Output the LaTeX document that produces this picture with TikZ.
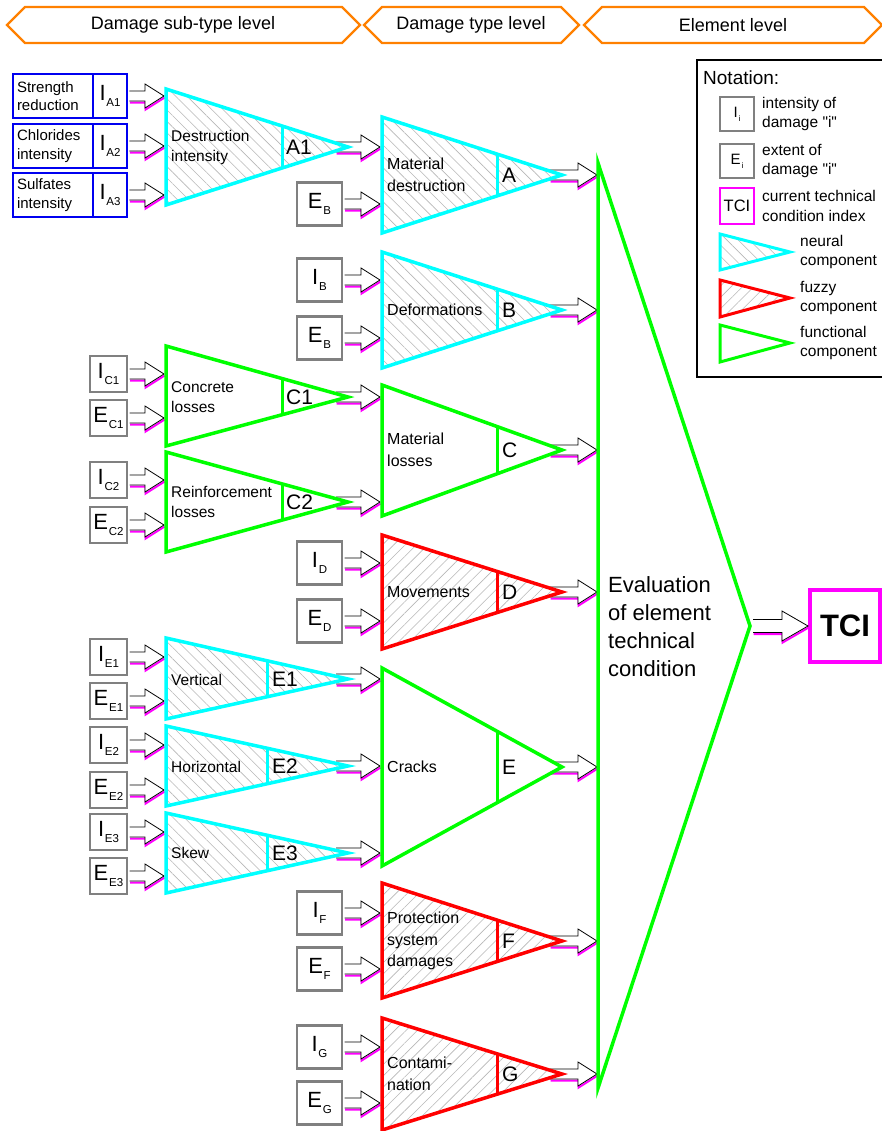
\documentclass[tikz,border=0pt]{standalone}
\usepackage{fontspec}
\setmainfont{Liberation Sans}[Ligatures=TeXOff]
\usetikzlibrary{calc,patterns.meta}

\definecolor{ncyan}{RGB}{0,255,255}
\definecolor{nmagenta}{RGB}{255,0,255}
\definecolor{ngreen}{RGB}{0,255,0}
\definecolor{nred}{RGB}{255,0,0}
\definecolor{nblue}{RGB}{0,0,240}
\definecolor{norange}{RGB}{255,128,0}
\definecolor{ngray}{RGB}{128,128,128}

% sizes of the hollow block arrows
\newcommand\shafth{5pt}
\newcommand\headh{12pt}
\newcommand\headl{19pt}

% block arrow with a magenta shadow; #2 = start, #3 = tip (the arrow is horizontal at the tip's height)
\newcommand\blockarrow[3][1.25pt]{%
  \path[draw=nmagenta, line width=2pt, line join=miter]
    let \p1=(#2), \p2=(#3) in
    (\x1+#1+0.5pt,\y2-\shafth-1.6pt) -- (\x2-\headl+0.5pt,\y2-\shafth-1.6pt)
    -- (\x2-\headl+0.5pt,\y2-\headh-1.6pt) -- (\x2+0.5pt,\y2-1.6pt);
  \filldraw[fill=white, draw=black, line width=0.8pt, line join=miter]
    let \p1=(#2), \p2=(#3) in
    (\x1+#1,\y2+\shafth) -- (\x2-\headl,\y2+\shafth) -- (\x2-\headl,\y2+\headh)
    -- (\x2,\y2) -- (\x2-\headl,\y2-\headh) -- (\x2-\headl,\y2-\shafth) -- (\x1+#1,\y2-\shafth);
}

% corner points of a component triangle: name, left x, top y, bottom y, tip x, tip y
\newcommand\defcomp[6]{%
  \coordinate (#1-tl) at (#2,#3);
  \coordinate (#1-bl) at (#2,#4);
  \coordinate (#1-tip) at (#5,#6);
  \expandafter\xdef\csname compleft#1\endcsname{#2}%
  \expandafter\xdef\csname comptip#1\endcsname{#5}%
}
% draw a component triangle: name, kind (neural/fuzzy/func), x of the divider
\newcommand\drawcomp[3]{%
  \path[#2tri] (#1-tl) -- (#1-tip) -- (#1-bl) -- cycle;
  \pgfmathsetmacro\divfrac{(#3-\csname compleft#1\endcsname)/(\csname comptip#1\endcsname-\csname compleft#1\endcsname)}%
  \draw[#2div] ($(#1-tl)!\divfrac!(#1-tip)$) -- ($(#1-bl)!\divfrac!(#1-tip)$);
}

% letter with its index, as printed in the input boxes
\newcommand\boxlet[4]{{\fontsize{#1}{#1}\selectfont #3\kern0.8pt\raisebox{-0.26em}{\fontsize{#2}{#2}\selectfont #4}}}

\tikzset{
  hdr/.style={draw=norange, line width=2.2pt, line join=miter},
  hdrtext/.style={font=\fontsize{18}{18}\selectfont, inner sep=0pt},
  graybox/.style={draw=ngray, line width=2.5pt, fill=white, inner sep=0pt,
    minimum width=45pt, minimum height=43pt},
  smallgray/.style={graybox, minimum width=37pt, minimum height=36pt},
  legbox/.style={graybox, minimum width=34pt, minimum height=34pt},
  bluelab/.style={draw=nblue, line width=2.2pt, fill=white, minimum height=44pt,
    text width=72pt, inner sep=4pt, align=left, font=\fontsize{15}{18.5}\selectfont},
  blueidx/.style={draw=nblue, line width=2.2pt, fill=white, minimum height=44pt,
    minimum width=34pt, inner sep=0pt},
  neuraltri/.style={draw=ncyan, line width=3.5pt, line join=miter, preaction={fill=white},
    pattern={Lines[angle=-45,distance=8pt,line width=0.6pt]}, pattern color=black!28},
  neuraldiv/.style={draw=ncyan, line width=3pt},
  fuzzytri/.style={draw=nred, line width=3.5pt, line join=miter, preaction={fill=white},
    pattern={Lines[angle=45,distance=8pt,line width=0.6pt]}, pattern color=black!28},
  fuzzydiv/.style={draw=nred, line width=3pt},
  functri/.style={draw=ngreen, line width=3.5pt, line join=miter, fill=white},
  funcdiv/.style={draw=ngreen, line width=3pt},
  lab1/.style={anchor=west, align=left, inner sep=0pt, font=\fontsize{15.5}{20}\selectfont},
  lab2/.style={anchor=west, align=left, inner sep=0pt, font=\fontsize{16}{21.5}\selectfont},
  idlabel/.style={anchor=west, inner sep=0pt, font=\fontsize{21}{21}\selectfont},
  legtext/.style={anchor=west, align=left, inner sep=0pt, font=\fontsize{15.5}{19.5}\selectfont},
}

\begin{document}
\begin{tikzpicture}[x=1pt,y=-1pt]
\useasboundingbox (0,0) rectangle (882,1131);

% ---------- level headers
\draw[hdr] (7,25) -- (25,7) -- (342,7) -- (360,25) -- (342,43) -- (25,43) -- cycle;
\draw[hdr] (364,25) -- (382,7) -- (561,7) -- (579,25) -- (561,43) -- (382,43) -- cycle;
\draw[hdr] (584,25) -- (602,7) -- (864,7) -- (882,25) -- (864,43) -- (602,43) -- cycle;
\node[hdrtext] (h1) at (183,25) {Damage sub-type level};
\node[hdrtext] (h2) at (471,25) {Damage type level};
\node[hdrtext] (h3) at (733,25) {Element level};

% ---------- input boxes, sub-type level
\node[bluelab] (sr) at (53,96) {Strength\\reduction};
\node[blueidx] (ia1) at (110,96) {\boxlet{22}{11.5}{I}{A1}};
\node[bluelab] (ci) at (53,146) {Chlorides\\intensity};
\node[blueidx] (ia2) at (110,146) {\boxlet{22}{11.5}{I}{A2}};
\node[bluelab] (si) at (53,195) {Sulfates\\intensity};
\node[blueidx] (ia3) at (110,195) {\boxlet{22}{11.5}{I}{A3}};

\node[smallgray] (ic1) at (108.5,374) {\boxlet{22}{11.5}{I}{C1}};
\node[smallgray] (ec1) at (108.5,418) {\boxlet{22}{11.5}{E}{C1}};
\node[smallgray] (ic2) at (108.5,480) {\boxlet{22}{11.5}{I}{C2}};
\node[smallgray] (ec2) at (108.5,525) {\boxlet{22}{11.5}{E}{C2}};
\node[smallgray] (ie1) at (108.5,657) {\boxlet{22}{11.5}{I}{E1}};
\node[smallgray] (ee1) at (108.5,701) {\boxlet{22}{11.5}{E}{E1}};
\node[smallgray] (ie2) at (108.5,745) {\boxlet{22}{11.5}{I}{E2}};
\node[smallgray] (ee2) at (108.5,790) {\boxlet{22}{11.5}{E}{E2}};
\node[smallgray] (ie3) at (108.5,832) {\boxlet{22}{11.5}{I}{E3}};
\node[smallgray] (ee3) at (108.5,876) {\boxlet{22}{11.5}{E}{E3}};

% ---------- input boxes, type level
\node[graybox] (eba) at (319.5,204) {\boxlet{22}{11.5}{E}{B}};
\node[graybox] (ib) at (319.5,280) {\boxlet{22}{11.5}{I}{B}};
\node[graybox] (eb) at (319.5,338) {\boxlet{22}{11.5}{E}{B}};
\node[graybox] (id) at (319.5,563) {\boxlet{22}{11.5}{I}{D}};
\node[graybox] (ed) at (319.5,621) {\boxlet{22}{11.5}{E}{D}};
\node[graybox] (if) at (319.5,913) {\boxlet{22}{11.5}{I}{F}};
\node[graybox] (ef) at (319.5,969) {\boxlet{22}{11.5}{E}{F}};
\node[graybox] (ig) at (319.5,1047) {\boxlet{22}{11.5}{I}{G}};
\node[graybox] (eg) at (319.5,1103) {\boxlet{22}{11.5}{E}{G}};

% ---------- component geometry
\defcomp{A1}{166}{89}{205}{348}{147}
\defcomp{C1}{166}{346}{446}{348}{397}
\defcomp{C2}{166}{452}{552}{348}{502}
\defcomp{E1}{166}{638}{719}{348}{679}
\defcomp{E2}{166}{726}{806}{348}{766}
\defcomp{E3}{166}{813}{893}{348}{853}
\defcomp{A}{382}{117}{233}{562}{175}
\defcomp{B}{382}{252}{368}{562}{310}
\defcomp{C}{382}{385}{516}{562}{450}
\defcomp{D}{382}{535}{649}{562}{592}
\defcomp{E}{382}{668}{866}{562}{767}
\defcomp{F}{382}{883}{998}{562}{941}
\defcomp{G}{382}{1018}{1130}{562}{1074}

% arrow tips on the component inputs
\coordinate (A1-i1) at (164,96);  \coordinate (A1-i2) at (164,146); \coordinate (A1-i3) at (164,195);
\coordinate (C1-i1) at (164,374); \coordinate (C1-i2) at (164,418);
\coordinate (C2-i1) at (164,480); \coordinate (C2-i2) at (164,525);
\coordinate (E1-i1) at (164,657); \coordinate (E1-i2) at (164,701);
\coordinate (E2-i1) at (164,745); \coordinate (E2-i2) at (164,790);
\coordinate (E3-i1) at (164,832); \coordinate (E3-i2) at (164,876);
\coordinate (A-i1) at (380,147); \coordinate (A-i2) at (380,204);
\coordinate (B-i1) at (380,280); \coordinate (B-i2) at (380,338);
\coordinate (C-i1) at (380,397); \coordinate (C-i2) at (380,502);
\coordinate (D-i1) at (380,563); \coordinate (D-i2) at (380,621);
\coordinate (E-i1) at (380,679); \coordinate (E-i2) at (380,766); \coordinate (E-i3) at (380,853);
\coordinate (F-i1) at (380,913); \coordinate (F-i2) at (380,969);
\coordinate (G-i1) at (380,1047); \coordinate (G-i2) at (380,1103);
\coordinate (ev-i1) at (597,175); \coordinate (ev-i2) at (597,310);
\coordinate (ev-i3) at (597,450); \coordinate (ev-i4) at (597,592);
\coordinate (ev-i5) at (597,767); \coordinate (ev-i6) at (597,941);
\coordinate (ev-i7) at (597,1074);

% arrow starts behind the component tips
\coordinate (A1-out) at (336,147); \coordinate (C1-out) at (336,397);
\coordinate (C2-out) at (336,502); \coordinate (E1-out) at (336,679);
\coordinate (E2-out) at (336,766); \coordinate (E3-out) at (336,853);
\coordinate (A-out) at (550,175); \coordinate (B-out) at (550,310);
\coordinate (C-out) at (550,450); \coordinate (D-out) at (550,592);
\coordinate (E-out) at (550,767); \coordinate (F-out) at (550,941);
\coordinate (G-out) at (550,1074);
\coordinate (ev-out) at (753,626);

% ---------- arrows
\blockarrow{ia1.east}{A1-i1} \blockarrow{ia2.east}{A1-i2} \blockarrow{ia3.east}{A1-i3}
\blockarrow{ic1.east}{C1-i1} \blockarrow{ec1.east}{C1-i2}
\blockarrow{ic2.east}{C2-i1} \blockarrow{ec2.east}{C2-i2}
\blockarrow{ie1.east}{E1-i1} \blockarrow{ee1.east}{E1-i2}
\blockarrow{ie2.east}{E2-i1} \blockarrow{ee2.east}{E2-i2}
\blockarrow{ie3.east}{E3-i1} \blockarrow{ee3.east}{E3-i2}

\blockarrow[0pt]{A1-out}{A-i1} \blockarrow{eba.east}{A-i2}
\blockarrow{ib.east}{B-i1} \blockarrow{eb.east}{B-i2}
\blockarrow[0pt]{C1-out}{C-i1} \blockarrow[0pt]{C2-out}{C-i2}
\blockarrow{id.east}{D-i1} \blockarrow{ed.east}{D-i2}
\blockarrow[0pt]{E1-out}{E-i1} \blockarrow[0pt]{E2-out}{E-i2} \blockarrow[0pt]{E3-out}{E-i3}
\blockarrow{if.east}{F-i1} \blockarrow{ef.east}{F-i2}
\blockarrow{ig.east}{G-i1} \blockarrow{eg.east}{G-i2}

\blockarrow[0pt]{A-out}{ev-i1} \blockarrow[0pt]{B-out}{ev-i2}
\blockarrow[0pt]{C-out}{ev-i3} \blockarrow[0pt]{D-out}{ev-i4}
\blockarrow[0pt]{E-out}{ev-i5} \blockarrow[0pt]{F-out}{ev-i6}
\blockarrow[0pt]{G-out}{ev-i7}

% ---------- components
\drawcomp{A1}{neural}{282}
\drawcomp{C1}{func}{282}
\drawcomp{C2}{func}{282}
\drawcomp{E1}{neural}{267}
\drawcomp{E2}{neural}{267}
\drawcomp{E3}{neural}{267}
\drawcomp{A}{neural}{497}
\drawcomp{B}{neural}{497}
\drawcomp{C}{func}{497}
\drawcomp{D}{fuzzy}{497}
\drawcomp{E}{func}{497}
\drawcomp{F}{fuzzy}{497}
\drawcomp{G}{fuzzy}{497}

% element-level evaluation
\path[functri] (598,163) coordinate (ev-top) -- (750,626) coordinate (ev-tip)
  -- (598,1088) coordinate (ev-bot) -- cycle;

% ---------- component texts
\node[lab1] (tA1) at (171,147) {Destruction\\intensity};
\node[lab1] (tC1) at (171,397) {Concrete\\losses};
\node[lab1] (tC2) at (171,502) {Reinforcement\\losses};
\node[lab1] (tE1) at (171,680) {Vertical};
\node[lab1] (tE2) at (171,767) {Horizontal};
\node[lab1] (tE3) at (171,853) {Skew};
\node[idlabel] (kA1) at (286,147) {A1};
\node[idlabel] (kC1) at (286,397) {C1};
\node[idlabel] (kC2) at (286,502) {C2};
\node[idlabel] (kE1) at (272,679) {E1};
\node[idlabel] (kE2) at (272,766) {E2};
\node[idlabel] (kE3) at (272,853) {E3};

\node[lab2] (tA) at (387,175) {Material\\destruction};
\node[lab2] (tB) at (387,310) {Deformations};
\node[lab2] (tC) at (387,450) {Material\\losses};
\node[lab2] (tD) at (387,592) {Movements};
\node[lab2] (tE) at (387,767) {Cracks};
\node[lab2] (tF) at (387,941) {Protection\\system\\damages};
\node[lab2] (tG) at (387,1074) {Contami-\\nation};
\node[idlabel] (kA) at (502,175) {A};
\node[idlabel] (kB) at (502,310) {B};
\node[idlabel] (kC) at (502,450) {C};
\node[idlabel] (kD) at (502,592) {D};
\node[idlabel] (kE) at (502,767) {E};
\node[idlabel] (kF) at (502,941) {F};
\node[idlabel] (kG) at (502,1074) {G};

\node[anchor=west, align=left, inner sep=0pt, font=\fontsize{22}{28}\selectfont] (evt)
  at (608,627) {Evaluation\\of element\\technical\\condition};

% ---------- result
\node[draw=nmagenta, line width=4pt, fill=white, minimum width=70pt, minimum height=72pt,
  inner sep=0pt, font=\fontsize{31}{31}\selectfont\bfseries] (tci) at (845,626) {TCI};
{\renewcommand\shafth{6.5pt}\renewcommand\headh{15pt}\renewcommand\headl{26pt}%
 \blockarrow[0pt]{ev-out}{tci.west}}

% ---------- notation
\draw[line width=2pt] (697,60) rectangle (892,377);
\node[anchor=west, inner sep=0pt, font=\fontsize{19}{19}\selectfont] (nt) at (703,78) {Notation:};
\node[legbox] (li) at (737,114) {\boxlet{15}{8}{I}{i}};
\node[legtext] (lit) at (762,114) {intensity of\\damage "i"};
\node[legbox] (le) at (737,161) {\boxlet{15}{8}{E}{i}};
\node[legtext] (let) at (762,161) {extent of\\damage "i"};
\node[legbox, draw=nmagenta, line width=2pt, minimum height=36pt,
  font=\fontsize{16.5}{16.5}\selectfont] (lt) at (737,206) {TCI};
\node[legtext] (ltt) at (762,206) {current technical\\condition index};
\path[neuraltri, line width=3pt] (720,234) -- (790,252) -- (720,270) -- cycle;
\node[legtext] (lnt) at (800,252) {neural\\component};
\path[fuzzytri, line width=3pt] (720,280) -- (790,298) -- (720,317) -- cycle;
\node[legtext] (lft) at (800,298) {fuzzy\\component};
\path[functri, line width=3pt] (720,325) -- (790,343) -- (720,362) -- cycle;
\node[legtext] (lgt) at (800,343) {functional\\component};

\end{tikzpicture}
\end{document}
